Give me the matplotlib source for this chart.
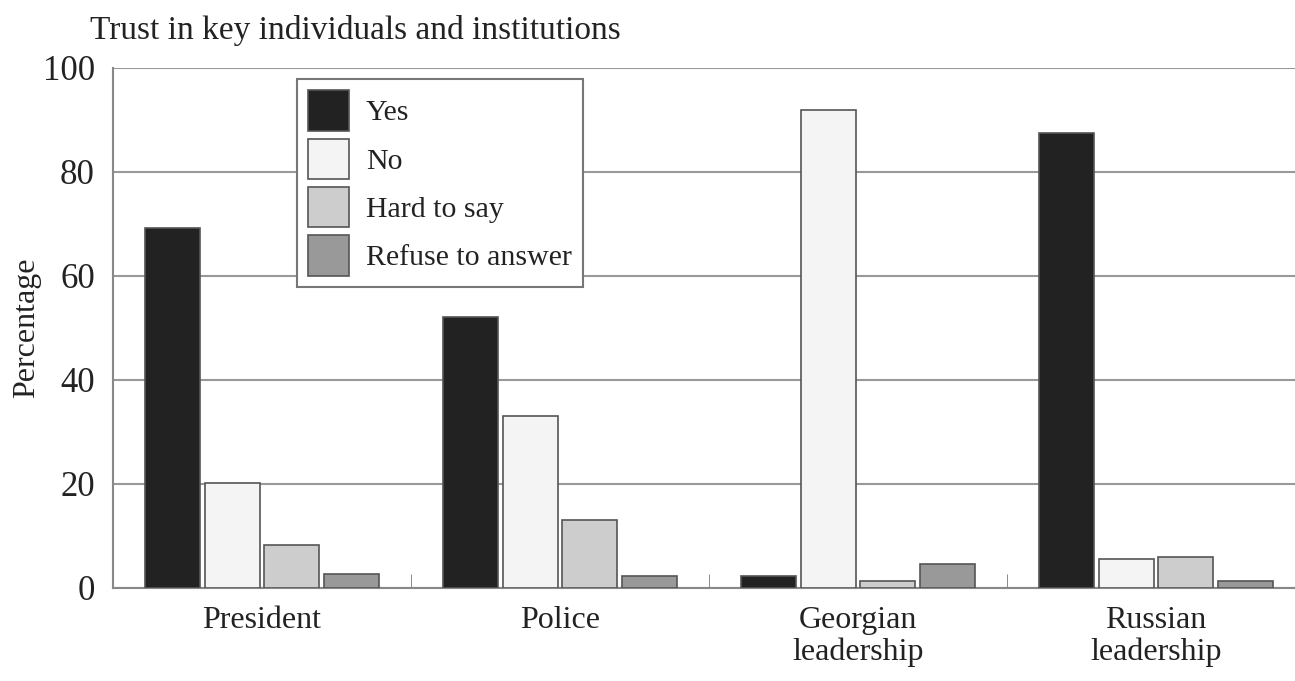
import numpy as np
import matplotlib.pyplot as plt

# survey answers, percent
categories = ["President", "Police", "Georgian\nleadership", "Russian\nleadership"]
answers = ["Yes", "No", "Hard to say", "Refuse to answer"]
yes = [69.2, 52.1, 2.3, 87.5]
no = [20.2, 33.1, 91.9, 5.6]
hard_to_say = [8.3, 13.1, 1.3, 6.0]
refuse = [2.7, 2.3, 4.6, 1.3]

colors = ["#222222", "#f4f4f4", "#cdcdcd", "#999999"]
plt.rcParams['font.family'] = ['Liberation Serif', 'DejaVu Serif']

fig = plt.figure(figsize=(12.95, 6.81), dpi=100)
ax = fig.add_axes([113 / 1295, 1 - 588 / 681, (1295 - 113) / 1295, 520 / 681])

x = np.arange(len(categories))
width = 0.185
offsets = [-0.3, -0.1, 0.1, 0.3]
for series, off, col, lab in zip([yes, no, hard_to_say, refuse], offsets, colors, answers):
    ax.bar(x + off, series, width, color=col, edgecolor="#555555", linewidth=1.2,
           label=lab, zorder=3)

ax.set_xlim(-0.5, -0.5 + (1295 - 113) / 298)
ax.set_ylim(0, 100)
ax.set_yticks([0, 20, 40, 60, 80, 100])
ax.yaxis.grid(True, color="#999999", linewidth=1.5, zorder=0)
ax.set_axisbelow(True)

ax.set_xticks(x)
ax.set_xticklabels(categories, fontsize=23, linespacing=1.1, color="#222222")
ax.set_xticks([0.5, 1.5, 2.5], minor=True)
ax.tick_params(axis="x", which="major", length=0, pad=13)
ax.tick_params(axis="x", which="minor", length=10, direction="in", color="#777777")
ax.tick_params(axis="y", length=0, pad=13, labelsize=25, labelcolor="#222222")

for s in ["top", "right"]:
    ax.spines[s].set_visible(False)
for s in ["left", "bottom"]:
    ax.spines[s].set_color("#888888")
    ax.spines[s].set_linewidth(1.5)

ax.set_ylabel("Percentage", fontsize=23, labelpad=1, color="#222222")
fig.text(90 / 1295, 1 - 31 / 681, "Trust in key individuals and institutions",
         fontsize=24, va="center", ha="left", color="#222222")

leg = ax.legend(loc="upper left", bbox_to_anchor=((297 - 113) / 1182, (588 - 79) / 520),
                borderaxespad=0, fontsize=21.5, handlelength=1.37, handleheight=1.7,
                labelspacing=0.27, handletextpad=0.55, borderpad=0.38,
                fancybox=False, edgecolor="#777777", framealpha=1)
leg.get_frame().set_linewidth(1.5)
for t in leg.get_texts():
    t.set_color("#222222")

fig.savefig("out.png", dpi=100)
